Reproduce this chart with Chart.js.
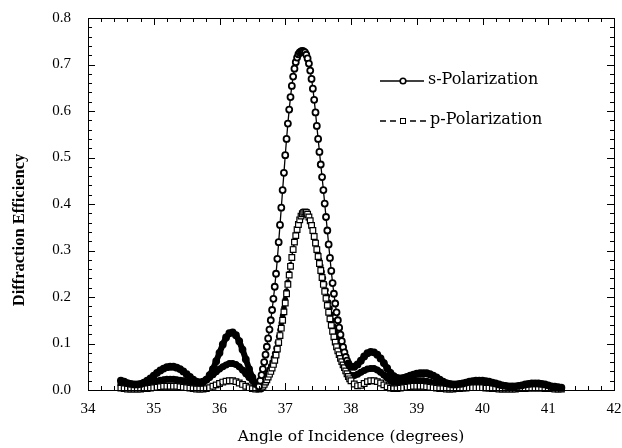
<!DOCTYPE html>
<html lang="en">
<head>
<meta charset="UTF-8">
<title>Diffraction Efficiency vs Angle of Incidence</title>
<script src="https://cdn.jsdelivr.net/npm/chart.js"></script>
<style>
  html, body { margin: 0; padding: 0; background: #fff; }
  #chart { display: block; }
</style>
</head>
<body>
<canvas id="chart" width="622" height="448"></canvas>
<script>
  // angle of incidence (degrees)
  const angles = [
    34.5, 34.55, 34.6, 34.65, 34.7, 34.75, 34.8, 34.85, 34.9, 34.95,
    35, 35.05, 35.1, 35.15, 35.2, 35.25, 35.3, 35.35, 35.4, 35.45,
    35.5, 35.55, 35.6, 35.65, 35.7, 35.75, 35.8, 35.85, 35.9, 35.95,
    36, 36.05, 36.1, 36.15, 36.2, 36.25, 36.3, 36.35, 36.4, 36.45,
    36.5, 36.55, 36.6,
    36.62, 36.64, 36.66, 36.68, 36.7, 36.72, 36.74, 36.76, 36.78, 36.8,
    36.82, 36.84, 36.86, 36.88, 36.9, 36.92, 36.94, 36.96, 36.98, 37,
    37.02, 37.04, 37.06, 37.08, 37.1, 37.12, 37.14, 37.16, 37.18, 37.2,
    37.22, 37.24, 37.26, 37.28, 37.3, 37.32, 37.34, 37.36, 37.38, 37.4,
    37.42, 37.44, 37.46, 37.48, 37.5, 37.52, 37.54, 37.56, 37.58, 37.6,
    37.62, 37.64, 37.66, 37.68, 37.7, 37.72, 37.74, 37.76, 37.78, 37.8,
    37.82, 37.84, 37.86, 37.88, 37.9, 37.92, 37.94, 37.96, 37.98,
    38, 38.05, 38.1, 38.15, 38.2, 38.25, 38.3, 38.35, 38.4, 38.45,
    38.5, 38.55, 38.6, 38.65, 38.7, 38.75, 38.8, 38.85, 38.9, 38.95,
    39, 39.05, 39.1, 39.15, 39.2, 39.25, 39.3, 39.35, 39.4, 39.45,
    39.5, 39.55, 39.6, 39.65, 39.7, 39.75, 39.8, 39.85, 39.9, 39.95,
    40, 40.05, 40.1, 40.15, 40.2, 40.25, 40.3, 40.35, 40.4, 40.45,
    40.5, 40.55, 40.6, 40.65, 40.7, 40.75, 40.8, 40.85, 40.9, 40.95,
    41, 41.05, 41.1, 41.15, 41.2
  ];

  const sPol = [
    0.020, 0.018, 0.015, 0.013, 0.012, 0.012, 0.013, 0.016, 0.020, 0.025,
    0.031, 0.037, 0.042, 0.046, 0.049, 0.050, 0.050, 0.048, 0.045, 0.040,
    0.034, 0.028, 0.022, 0.018, 0.016, 0.017, 0.022, 0.032, 0.045, 0.062,
    0.080, 0.098, 0.113, 0.122, 0.124, 0.118, 0.105, 0.087, 0.066, 0.045,
    0.027, 0.013, 0.008,
    0.020, 0.032, 0.045, 0.060, 0.076, 0.093, 0.111, 0.130, 0.150, 0.172,
    0.196, 0.222, 0.250, 0.282, 0.318, 0.355, 0.392, 0.430, 0.467, 0.505,
    0.540, 0.573, 0.603, 0.630, 0.654, 0.674, 0.691, 0.705, 0.715, 0.722,
    0.726, 0.728, 0.729, 0.728, 0.726, 0.721, 0.713, 0.702, 0.687, 0.669,
    0.648, 0.624, 0.597, 0.568, 0.540, 0.512, 0.485, 0.458, 0.430, 0.401,
    0.372, 0.343, 0.313, 0.284, 0.256, 0.230, 0.207, 0.186, 0.167, 0.150,
    0.134, 0.119, 0.105, 0.092, 0.081, 0.071, 0.063, 0.057, 0.052,
    0.050, 0.050, 0.055, 0.063, 0.072, 0.079, 0.082, 0.081, 0.076, 0.068,
    0.058, 0.047, 0.037, 0.030, 0.026, 0.025, 0.026, 0.028, 0.031, 0.033,
    0.035, 0.036, 0.036, 0.036, 0.034, 0.031, 0.027, 0.022, 0.018, 0.015,
    0.013, 0.012, 0.012, 0.013, 0.014, 0.016, 0.018, 0.019, 0.020, 0.020,
    0.020, 0.019, 0.018, 0.016, 0.014, 0.012, 0.010, 0.009, 0.008, 0.008,
    0.008, 0.009, 0.010, 0.012, 0.013, 0.014, 0.014, 0.014, 0.013, 0.012,
    0.010, 0.008, 0.007, 0.006, 0.005
  ];

  const pPol = [
    0.004, 0.003, 0.002, 0.002, 0.002, 0.002, 0.002, 0.003, 0.003, 0.004,
    0.005, 0.006, 0.007, 0.008, 0.008, 0.008, 0.008, 0.008, 0.007, 0.006,
    0.005, 0.004, 0.003, 0.002, 0.002, 0.002, 0.003, 0.005, 0.008, 0.011,
    0.014, 0.017, 0.019, 0.020, 0.020, 0.018, 0.015, 0.012, 0.008, 0.005,
    0.003, 0.002, 0.002,
    0.003, 0.005, 0.008, 0.012, 0.017, 0.022, 0.028, 0.034, 0.040, 0.047,
    0.055, 0.064, 0.075, 0.088, 0.102, 0.117, 0.133, 0.150, 0.168, 0.187,
    0.207, 0.227, 0.247, 0.266, 0.285, 0.302, 0.318, 0.332, 0.345, 0.356,
    0.366, 0.374, 0.379, 0.382, 0.383, 0.382, 0.378, 0.372, 0.364, 0.354,
    0.343, 0.330, 0.316, 0.302, 0.287, 0.272, 0.257, 0.242, 0.227, 0.212,
    0.197, 0.182, 0.167, 0.153, 0.139, 0.126, 0.114, 0.103, 0.093, 0.084,
    0.076, 0.068, 0.061, 0.054, 0.048, 0.041, 0.035, 0.029, 0.024,
    0.020, 0.013, 0.009, 0.010, 0.014, 0.018, 0.020, 0.020, 0.018, 0.015,
    0.011, 0.007, 0.004, 0.003, 0.003, 0.004, 0.005, 0.006, 0.007, 0.008,
    0.008, 0.008, 0.008, 0.007, 0.006, 0.005, 0.004, 0.003, 0.003, 0.002,
    0.002, 0.002, 0.003, 0.003, 0.004, 0.004, 0.005, 0.005, 0.005, 0.005,
    0.005, 0.004, 0.004, 0.003, 0.003, 0.002, 0.002, 0.002, 0.002, 0.002,
    0.002, 0.003, 0.003, 0.003, 0.004, 0.004, 0.004, 0.004, 0.004, 0.003,
    0.003, 0.003, 0.002, 0.002, 0.002
  ];

  // second p curve (filled marks, not in the legend)
  const pMeas = [
    0.012, 0.011, 0.010, 0.009, 0.009, 0.009, 0.010, 0.011, 0.013, 0.015,
    0.017, 0.019, 0.021, 0.022, 0.023, 0.023, 0.023, 0.022, 0.021, 0.020,
    0.018, 0.017, 0.016, 0.016, 0.017, 0.019, 0.022, 0.027, 0.033, 0.039,
    0.045, 0.050, 0.054, 0.057, 0.057, 0.055, 0.050, 0.043, 0.035, 0.027,
    0.020, 0.015, 0.013,
    0.014, 0.016, 0.019, 0.023, 0.028, 0.033, 0.039, 0.045, 0.052, 0.060,
    0.069, 0.079, 0.090, 0.102, 0.115, 0.129, 0.144, 0.160, 0.177, 0.195,
    0.213, 0.232, 0.251, 0.269, 0.287, 0.304, 0.320, 0.334, 0.347, 0.358,
    0.367, 0.374, 0.379, 0.381, 0.381, 0.379, 0.375, 0.369, 0.361, 0.352,
    0.342, 0.331, 0.319, 0.306, 0.293, 0.280, 0.267, 0.254, 0.241, 0.228,
    0.215, 0.202, 0.189, 0.176, 0.163, 0.150, 0.137, 0.124, 0.112, 0.100,
    0.089, 0.079, 0.069, 0.060, 0.052, 0.045, 0.039, 0.035, 0.032,
    0.031, 0.031, 0.034, 0.038, 0.042, 0.045, 0.046, 0.046, 0.043, 0.038,
    0.032, 0.026, 0.020, 0.016, 0.015, 0.015, 0.016, 0.017, 0.018, 0.019,
    0.020, 0.020, 0.020, 0.019, 0.017, 0.015, 0.013, 0.011, 0.009, 0.008,
    0.008, 0.008, 0.008, 0.009, 0.010, 0.011, 0.012, 0.012, 0.012, 0.012,
    0.012, 0.011, 0.010, 0.009, 0.008, 0.007, 0.006, 0.005, 0.005, 0.005,
    0.005, 0.006, 0.007, 0.008, 0.008, 0.009, 0.009, 0.009, 0.008, 0.008,
    0.007, 0.006, 0.005, 0.004, 0.004
  ];

  const pts = vals => angles.map((a, i) => ({ x: a, y: vals[i] }));

  // in the side-lobe regions the marks run together into a solid band
  const lobeAngle = a => a < 36.6 || a > 37.95;
  const inLobes = ctx => lobeAngle(angles[ctx.dataIndex]);
  const bandWidth = (wide, thin) => c =>
    lobeAngle(angles[c.p0DataIndex]) && lobeAngle(angles[c.p1DataIndex]) ? wide : thin;

  // box frame, inward ticks on all four sides, y title and the in-plot legend
  const frame = {
    id: 'frame',
    afterDraw(chart) {
      const { ctx, chartArea: a, scales: { x, y } } = chart;
      ctx.save();
      ctx.strokeStyle = '#000';
      ctx.lineWidth = 1;
      ctx.setLineDash([]);
      ctx.strokeRect(a.left + 0.5, a.top + 0.5, a.right - a.left, a.bottom - a.top);
      ctx.beginPath();
      for (let i = 0; i <= 40; i++) {
        const px = Math.round(x.getPixelForValue(34 + i * 0.2)) + 0.5;
        const len = i % 5 === 0 ? 7 : 4;
        ctx.moveTo(px, a.bottom); ctx.lineTo(px, a.bottom - len);
        ctx.moveTo(px, a.top); ctx.lineTo(px, a.top + len);
      }
      for (let i = 0; i <= 40; i++) {
        const py = Math.round(y.getPixelForValue(i * 0.02)) + 0.5;
        const len = i % 5 === 0 ? 7 : 4;
        ctx.moveTo(a.left, py); ctx.lineTo(a.left + len, py);
        ctx.moveTo(a.right, py); ctx.lineTo(a.right - len, py);
      }
      ctx.stroke();

      // y axis title (sits a little below the middle in the reference)
      ctx.save();
      ctx.translate(20, 230);
      ctx.rotate(-Math.PI / 2);
      ctx.font = 'bold 16.5px "Liberation Serif"';
      ctx.fillStyle = '#000';
      ctx.textAlign = 'center';
      ctx.textBaseline = 'middle';
      ctx.fillText('Diffraction Efficiency', 0, 0);
      ctx.restore();

      // legend
      ctx.font = '16px "DejaVu Serif"';
      ctx.fillStyle = '#000';
      ctx.textBaseline = 'middle';
      ctx.lineWidth = 1.3;
      ctx.beginPath();
      ctx.moveTo(380, 81); ctx.lineTo(424, 81);
      ctx.stroke();
      ctx.lineWidth = 1.6;
      ctx.beginPath();
      ctx.arc(403, 81, 2.8, 0, Math.PI * 2);
      ctx.fillStyle = '#fff'; ctx.fill();
      ctx.stroke();
      ctx.fillStyle = '#000';
      ctx.fillText('s-Polarization', 428, 80);

      ctx.lineWidth = 1.3;
      ctx.setLineDash([6, 4]);
      ctx.beginPath();
      ctx.moveTo(380, 121); ctx.lineTo(426, 121);
      ctx.stroke();
      ctx.setLineDash([]);
      ctx.lineWidth = 1;
      ctx.fillStyle = '#fff';
      ctx.fillRect(400.5, 118.5, 5, 5);
      ctx.strokeRect(400.5, 118.5, 5, 5);
      ctx.fillStyle = '#000';
      ctx.fillText('p-Polarization', 430, 120);
      ctx.restore();
    }
  };

  // keep the plot box where the reference has it
  const fixBox = size => s => {
    if (s.isHorizontal()) s.height = size; else s.width = size;
    s.paddingTop = 0; s.paddingBottom = 0; s.paddingLeft = 0; s.paddingRight = 0;
  };

  new Chart(document.getElementById('chart'), {
    type: 'line',
    data: {
      datasets: [
        {
          label: 's-Polarization',
          data: pts(sPol),
          borderColor: '#000',
          borderWidth: 1.3,
          segment: { borderWidth: bandWidth(6, 1.3) },
          pointStyle: 'circle',
          pointRadius: 3,
          pointBorderWidth: 1.8,
          pointBackgroundColor: ctx => inLobes(ctx) ? '#000' : '#fff',
          pointBorderColor: '#000',
          clip: 10
        },
        {
          label: 'p-Polarization',
          data: pts(pPol),
          borderColor: '#000',
          borderWidth: 1.3,
          borderDash: [5, 4],
          pointStyle: 'rect',
          pointRadius: 4,
          pointBorderWidth: 1.2,
          pointBackgroundColor: '#fff',
          pointBorderColor: '#000',
          clip: 10
        },
        {
          label: '',
          data: pts(pMeas),
          borderColor: '#000',
          borderWidth: 1,
          segment: { borderWidth: bandWidth(6, 1) },
          pointStyle: 'circle',
          pointRadius: ctx => inLobes(ctx) ? 3.5 : 2.8,
          pointBorderWidth: 0,
          pointBackgroundColor: '#000',
          clip: 10
        }
      ]
    },
    options: {
      responsive: false,
      animation: false,
      devicePixelRatio: 1,
      layout: { padding: { top: 18, right: 8, left: 0, bottom: 0 } },
      plugins: { legend: { display: false }, tooltip: { enabled: false } },
      scales: {
        x: {
          type: 'linear',
          min: 34,
          max: 42,
          ticks: {
            stepSize: 1,
            padding: 10,
            maxRotation: 0,
            color: '#000',
            font: { family: 'Liberation Serif', size: 15 }
          },
          grid: { display: false, drawTicks: false },
          border: { display: false },
          title: {
            display: true,
            text: 'Angle of Incidence (degrees)',
            color: '#000',
            font: { family: 'DejaVu Serif', size: 15.5 },
            padding: { top: 0, bottom: 2 }
          },
          afterFit: fixBox(58)
        },
        y: {
          min: 0,
          max: 0.8,
          ticks: {
            stepSize: 0.1,
            padding: 17,
            color: '#000',
            font: { family: 'Liberation Serif', size: 15 },
            callback: v => v.toFixed(1)
          },
          grid: { display: false, drawTicks: false },
          border: { display: false },
          afterFit: fixBox(88)
        }
      }
    },
    plugins: [frame]
  });
</script>
</body>
</html>
